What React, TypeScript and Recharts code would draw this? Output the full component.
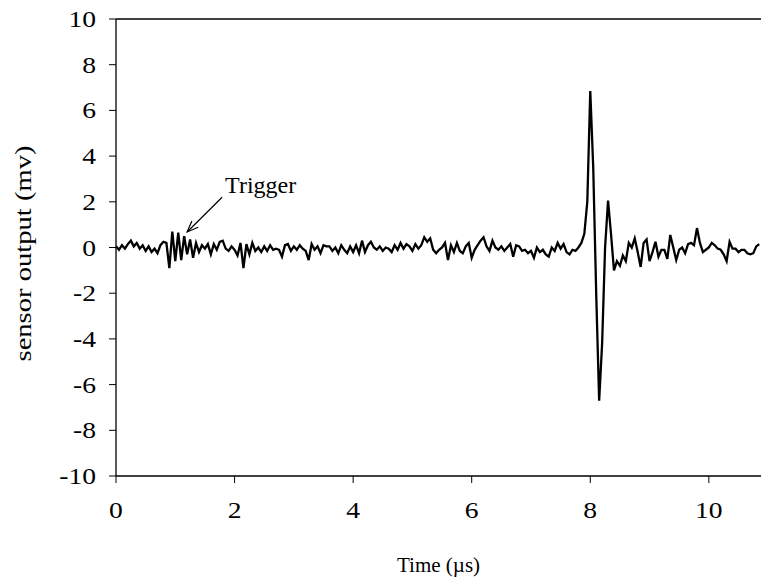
import React from 'react';
import { LineChart, Line, XAxis, YAxis, ReferenceLine } from 'recharts';

// Sensor output sampled every 0.05 µs, starting at t = 0 µs
const SAMPLE_INTERVAL_US = 0.05;
const sensorOutputMv: number[] = [
  0.05, -0.1, 0.1, -0.05, 0.15, 0.3, 0.05, 0.2, -0.05, 0.1,
  -0.15, 0.05, -0.2, -0.05, -0.25, 0.1, 0.25, 0.2, -0.9, 0.7,
  -0.6, 0.65, -0.55, 0.5, -0.3, 0.35, -0.45, 0.2, -0.2, 0.1,
  -0.05, 0.15, -0.3, 0.15, -0.1, 0.25, 0.3, -0.05, -0.15, 0.05,
  -0.1, -0.35, 0.2, -0.9, 0.15, -0.3, 0.2, -0.15, 0.0, -0.2,
  0.05, -0.15, 0.1, -0.1, -0.05, -0.1, -0.4, 0.1, 0.15, -0.15,
  0.05, -0.1, 0.1, -0.05, -0.15, -0.55, 0.15, -0.1, 0.05, -0.25,
  0.1, 0.05, 0.05, -0.15, 0.0, -0.25, 0.1, -0.1, -0.25, 0.05,
  -0.2, 0.1, -0.25, 0.3, -0.2, 0.1, 0.25, 0.0, -0.1, 0.05,
  -0.15, 0.0, -0.05, -0.2, 0.1, -0.1, 0.2, -0.05, 0.15, 0.05,
  -0.15, 0.15, -0.05, 0.1, 0.45, 0.25, 0.4, -0.1, -0.25, -0.1,
  0.0, 0.2, -0.55, 0.1, -0.2, 0.2, -0.15, -0.25, 0.05, 0.2,
  -0.45, -0.1, 0.1, 0.3, 0.45, 0.05, -0.15, 0.3, 0.0, -0.1,
  0.05, -0.15, 0.0, 0.15, -0.4, 0.1, 0.05, -0.15, -0.1, -0.25,
  -0.15, -0.45, 0.0, -0.2, -0.1, -0.3, -0.4, 0.0, -0.15, 0.2,
  -0.05, 0.15, -0.2, -0.3, -0.1, -0.15, 0.0, 0.2, 0.6, 2.0,
  6.85, 3.5, -2.0, -6.7, -4.2, 0.0, 2.05, 0.6, -1.0, -0.6,
  -0.8, -0.35, -0.6, 0.2, 0.0, 0.4, -0.2, -0.85, 0.2, 0.35,
  -0.6, -0.2, 0.25, -0.4, -0.1, -0.1, -0.5, 0.55, 0.0, -0.55,
  -0.1, 0.0, -0.25, 0.15, 0.2, 0.1, 0.85, 0.2, -0.2, -0.1,
  0.0, 0.2, 0.1, -0.05, -0.1, -0.3, -0.6, 0.25, -0.05, -0.05,
  -0.2, -0.1, -0.1, -0.25, -0.3, -0.25, 0.05, 0.15,
];

const xTicks = [0, 2, 4, 6, 8, 10];
const yTicks = [-10, -8, -6, -4, -2, 0, 2, 4, 6, 8, 10];
const xDomain: [number, number] = [0, 10.88];
const yDomain: [number, number] = [-10, 10];

// Annotation: label anchor (time, mv) and arrow tip (time, mv)
const triggerLabel = 'Trigger';
const triggerTextAt = { t: 1.79, v: 2.2 };
const triggerTipAt = { t: 1.2, v: 0.68 };

const data = sensorOutputMv.map((v, i) => ({
  t: Math.round(i * SAMPLE_INTERVAL_US * 100) / 100,
  v,
}));

const FONT = "'Liberation Serif', 'Times New Roman', serif";
const TICK_FS = 23;
const TICK_SX = 1.2;
const LABEL_FS = 24;
const YLABEL_FS = 24;
const YLABEL_LEN = 216;
const XLABEL_FS = 21;

const ArrowShape = (props: any) => {
  const { x1, y1, x2, y2 } = props;
  if ([x1, y1, x2, y2].some((n) => typeof n !== 'number' || isNaN(n))) return null;
  const ang = Math.atan2(y2 - y1, x2 - x1);
  const len = 12;
  const spread = 0.38;
  const hx1 = x2 - len * Math.cos(ang - spread);
  const hy1 = y2 - len * Math.sin(ang - spread);
  const hx2 = x2 - len * Math.cos(ang + spread);
  const hy2 = y2 - len * Math.sin(ang + spread);
  return (
    <g>
      <line x1={x1} y1={y1} x2={x2} y2={y2} stroke="#000" strokeWidth={1.2} />
      <polyline
        points={`${hx1},${hy1} ${x2},${y2} ${hx2},${hy2}`}
        fill="none"
        stroke="#000"
        strokeWidth={1.2}
      />
      <text x={x1 + 3} y={y1 - 4} fontFamily={FONT} fontSize={LABEL_FS} fill="#000">
        {triggerLabel}
      </text>
    </g>
  );
};

const YLabel = (props: any) => {
  const vb = props.viewBox || {};
  const cx = 22.5;
  const cy = (vb.y ?? 19) + (vb.height ?? 457) / 2 + 6;
  return (
    <text
      x={cx}
      y={cy}
      transform={`rotate(-90 ${cx} ${cy})`}
      textAnchor="middle"
      dominantBaseline="central"
      fontFamily={FONT}
      fontSize={YLABEL_FS}
      textLength={YLABEL_LEN}
      lengthAdjust="spacingAndGlyphs"
      fill="#000"
    >
      sensor output (mv)
    </text>
  );
};

const renderXTick = (props: any) => {
  const { x, y, payload } = props;
  return (
    <g transform={`translate(${x} ${y}) scale(${TICK_SX} 1)`}>
      <text
        x={0}
        y={0}
        dy="0.71em"
        textAnchor="middle"
        fontFamily={FONT}
        fontSize={TICK_FS}
        fill="#000"
      >
        {String(payload.value)}
      </text>
    </g>
  );
};

const renderYTick = (props: any) => {
  const { x, y, payload } = props;
  return (
    <g transform={`translate(${x} ${y}) scale(${TICK_SX} 1)`}>
      <text
        x={0}
        y={0}
        dy="0.35em"
        textAnchor="end"
        fontFamily={FONT}
        fontSize={TICK_FS}
        fill="#000"
      >
        {String(payload.value)}
      </text>
    </g>
  );
};

export default function App() {
  return (
    <div style={{ position: 'absolute', left: 0, top: 0, background: '#fff', fontFamily: FONT }}>
      <LineChart
        width={761}
        height={583}
        data={data}
        margin={{ top: 19, right: 0, bottom: 0, left: 0 }}
        style={{ fontFamily: FONT }}
      >
        <XAxis
          dataKey="t"
          type="number"
          domain={xDomain}
          ticks={xTicks}
          allowDataOverflow
          height={107}
          tickSize={7}
          tickMargin={19}
          axisLine={{ stroke: '#000', strokeWidth: 1.3 }}
          tickLine={{ stroke: '#000', strokeWidth: 1 }}
          tick={renderXTick}
          label={{
            value: 'Time (µs)',
            position: 'insideBottom',
            offset: 11,
            fill: '#000',
            fontFamily: FONT,
            fontSize: XLABEL_FS,
          }}
        />
        <YAxis
          type="number"
          domain={yDomain}
          ticks={yTicks}
          allowDataOverflow
          width={116}
          tickSize={7}
          tickMargin={13}
          axisLine={{ stroke: '#000', strokeWidth: 1.3 }}
          tickLine={{ stroke: '#000', strokeWidth: 1 }}
          tick={renderYTick}
          label={<YLabel />}
        />
        <ReferenceLine y={10} stroke="#000" strokeWidth={1.3} />
        <ReferenceLine
          segment={[
            { x: triggerTextAt.t, y: triggerTextAt.v },
            { x: triggerTipAt.t, y: triggerTipAt.v },
          ]}
          shape={ArrowShape}
        />
        <Line
          type="linear"
          dataKey="v"
          stroke="#000"
          strokeWidth={2.3}
          dot={false}
          isAnimationActive={false}
        />
      </LineChart>
    </div>
  );
}
